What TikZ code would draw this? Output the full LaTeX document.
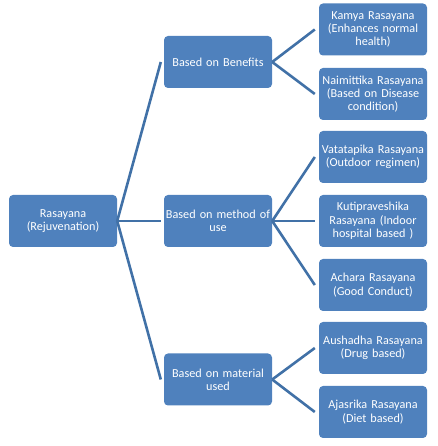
\documentclass[tikz,border=0pt]{standalone}
\usepackage{fontspec}
\setmainfont{Carlito}
\definecolor{boxblue}{RGB}{79,129,189}
\definecolor{lineblue}{RGB}{65,113,167}
\begin{document}
\begin{tikzpicture}[x=1pt,y=1pt,
  box/.style={rectangle,rounded corners=4pt,fill=boxblue,draw=none,
    minimum width=108pt,minimum height=52pt,text width=108pt,align=center,
    text=white,inner sep=0pt,font=\fontsize{12.2}{13.3}\selectfont},
  conn/.style={draw=lineblue,line width=2.6pt}]
\useasboundingbox (0,0) rectangle (437,446);
\node[box] (root) at (63,225) {Rasayana\\(Rejuvenation)};
\node[box] (ben) at (218,384) {Based on Benefits};
\node[box] (meth) at (218,225) {Based on method of\\use};
\node[box] (mat) at (218,66.5) {Based on material\\used};
\node[box] (kam) at (373,416.5) {Kamya Rasayana\\(Enhances normal\\health)};
\node[box] (nai) at (373,352) {Naimittika Rasayana\\(Based on Disease\\condition)};
\node[box] (vat) at (373,289) {Vatatapika Rasayana\\(Outdoor regimen)};
\node[box] (kut) at (373,225) {Kutipraveshika\\Rasayana (Indoor\\hospital based )};
\node[box] (ach) at (373,161) {Achara Rasayana\\(Good Conduct)};
\node[box] (aus) at (373,98) {Aushadha Rasayana\\(Drug based)};
\node[box] (aja) at (373,34) {Ajasrika Rasayana\\(Diet based)};
\draw[conn] (root.east) -- ([xshift=-3pt]ben.west);
\draw[conn] (root.east) -- ([xshift=-3pt]meth.west);
\draw[conn] (root.east) -- ([xshift=-3pt]mat.west);
\draw[conn] (ben.east) -- ([xshift=-4pt]kam.west);
\draw[conn] (ben.east) -- ([xshift=-4pt]nai.west);
\draw[conn] (meth.east) -- ([xshift=-4pt]vat.west);
\draw[conn] (meth.east) -- ([xshift=-4pt]kut.west);
\draw[conn] (meth.east) -- ([xshift=-4pt]ach.west);
\draw[conn] (mat.east) -- ([xshift=-4pt]aus.west);
\draw[conn] (mat.east) -- ([xshift=-4pt]aja.west);
\end{tikzpicture}
\end{document}
